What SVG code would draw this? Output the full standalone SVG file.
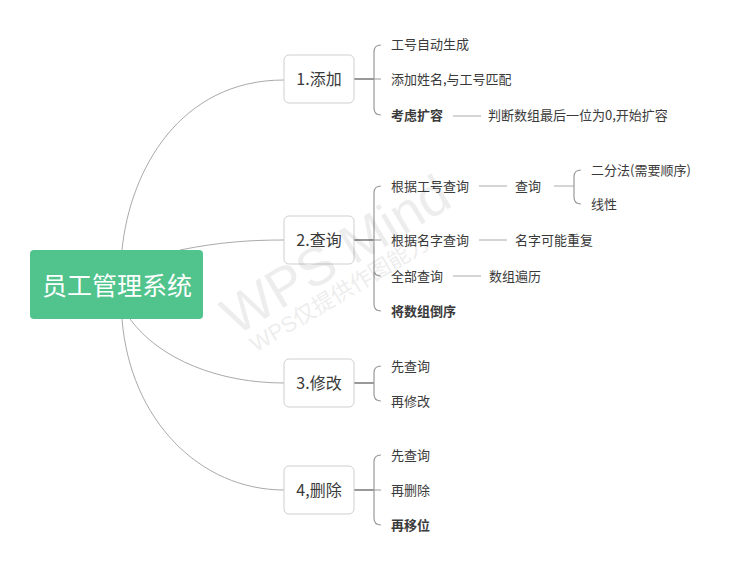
<svg xmlns="http://www.w3.org/2000/svg" width="730" height="570" viewBox="0 0 730 570">
<style>
text{font-family:"Noto Sans CJK SC","Noto Sans",sans-serif;fill:#3a3a3a;dominant-baseline:central}
.t{font-size:13px}
.b{font-weight:bold}
.l1{font-size:16px;text-anchor:middle}
.box{fill:#fff;stroke:#cfcfcf;stroke-width:1}
.c{fill:none;stroke:#aaa;stroke-width:1}
.br{fill:none;stroke:#999;stroke-width:1.2}
.lk{fill:none;stroke:#999;stroke-width:2}
.wm{fill:#000;opacity:0.065;font-family:"Liberation Sans","Noto Sans CJK SC",sans-serif}
</style>
<rect width="730" height="570" fill="#fff"/>
<g id="connectors">
<path class="c" d="M122,250 C130,170 180,80 284,80"/>
<path class="c" d="M180,250 C220,242 250,240 284,240"/>
<path class="c" d="M130,319 C160,360 220,383 284,383"/>
<path class="c" d="M122,319 C130,420 200,490 284,490"/>
<path class="lk" d="M354,79 H374"/>
<path class="br" d="M381,45 Q374,45 374,52 V108 Q374,115 381,115 M374,79 H381"/>
<path class="c" d="M453,116 H481"/>
<path class="lk" d="M354,240 H374"/>
<path class="br" d="M381,186 Q374,186 374,193 V304 Q374,311 381,311 M374,240 H381 M374,270 Q374,276 381,276"/>
<path class="c" d="M479,186 H507"/>
<path class="c" d="M554,186 H574"/>
<path class="br" d="M581,170 Q574,170 574,177 V197 Q574,204 581,204"/>
<path class="c" d="M479,240 H507"/>
<path class="c" d="M453,276 H481"/>
<path class="lk" d="M354,383 H374"/>
<path class="br" d="M381,366 Q374,366 374,373 V394 Q374,401 381,401"/>
<path class="lk" d="M354,490 H374"/>
<path class="br" d="M381,455 Q374,455 374,462 V518 Q374,525 381,525 M374,490 H381"/>
</g>
<g id="root">
<rect x="30" y="250" width="173" height="69" rx="4" fill="#51c38c"/>
<text x="117" y="284" font-size="25" text-anchor="middle" style="fill:#fff">员工管理系统</text>
</g>
<g id="n1">
<rect class="box" x="284" y="55" width="70" height="48" rx="5"/>
<text class="l1" x="319" y="78">1.添加</text>
</g>
<g id="n2">
<rect class="box" x="284" y="216" width="70" height="48" rx="5"/>
<text class="l1" x="319" y="239">2.查询</text>
</g>
<g id="n3">
<rect class="box" x="284" y="359" width="70" height="48" rx="5"/>
<text class="l1" x="319" y="382">3.修改</text>
</g>
<g id="n4">
<rect class="box" x="284" y="466" width="70" height="48" rx="5"/>
<text class="l1" x="319" y="489">4,删除</text>
</g>
<g id="n1-1"><text class="t" x="391" y="43">工号自动生成</text></g>
<g id="n1-2"><text class="t" x="391" y="78">添加姓名,与工号匹配</text></g>
<g id="n1-3"><text class="t b" x="391" y="114">考虑扩容</text></g>
<g id="n1-3-1"><text class="t" x="488" y="114">判断数组最后一位为0,开始扩容</text></g>
<g id="n2-1"><text class="t" x="391" y="185">根据工号查询</text></g>
<g id="n2-1-1"><text class="t" x="515" y="185">查询</text></g>
<g id="n2-1-1-1"><text class="t" x="591" y="169">二分法(需要顺序)</text></g>
<g id="n2-1-1-2"><text class="t" x="591" y="203">线性</text></g>
<g id="n2-2"><text class="t" x="391" y="239">根据名字查询</text></g>
<g id="n2-2-1"><text class="t" x="515" y="239">名字可能重复</text></g>
<g id="n2-3"><text class="t" x="391" y="275">全部查询</text></g>
<g id="n2-3-1"><text class="t" x="489" y="275">数组遍历</text></g>
<g id="n2-4"><text class="t b" x="391" y="310">将数组倒序</text></g>
<g id="n3-1"><text class="t" x="391" y="365">先查询</text></g>
<g id="n3-2"><text class="t" x="391" y="400">再修改</text></g>
<g id="n4-1"><text class="t" x="391" y="454">先查询</text></g>
<g id="n4-2"><text class="t" x="391" y="489">再删除</text></g>
<g id="n4-3"><text class="t b" x="391" y="524">再移位</text></g>
<g id="watermark">
<text class="wm" x="226" y="320" font-size="54" transform="rotate(-31 226 320)">WPS Mind</text>
<text class="wm" x="252" y="346" font-size="22" transform="rotate(-31 252 346)">WPS仅提供作图能力</text>
</g>
</svg>
